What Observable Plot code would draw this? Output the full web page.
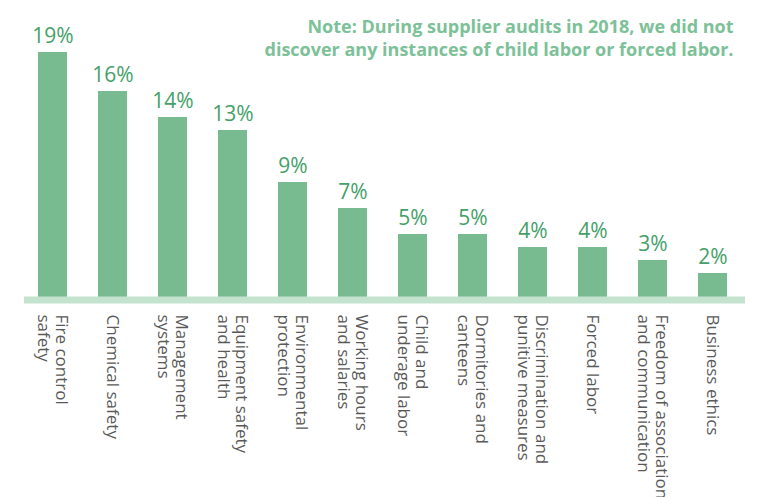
<!DOCTYPE html>
<html>
<head>
<meta charset="utf-8">
<script src="https://cdn.jsdelivr.net/npm/d3@7"></script>
<script src="https://cdn.jsdelivr.net/npm/@observablehq/plot@0.6"></script>
<style>
  html, body { margin: 0; padding: 0; background: #fff; }
  #chart { width: 767px; height: 497px; overflow: hidden; }
</style>
</head>
<body>
<div id="chart"></div>
<script>
const categories = [
  "Fire control\nsafety",
  "Chemical safety",
  "Management\nsystems",
  "Equipment safety\nand health",
  "Environmental\nprotection",
  "Working hours\nand salaries",
  "Child and\nunderage labor",
  "Dormitories and\ncanteens",
  "Discrimination and\npunitive measures",
  "Forced labor",
  "Freedom of association\nand communication",
  "Business ethics"
];
const values = [19, 16, 14, 13, 9, 7, 5, 5, 4, 4, 3, 2];
const valueLabels = ["19%", "16%", "14%", "13%", "9%", "7%", "5%", "5%", "4%", "4%", "3%", "2%"];
const note = "Note: During supplier audits in 2018, we did not\ndiscover any instances of child labor or forced labor.";

const data = categories.map((c, i) => ({category: c, value: values[i], label: valueLabels[i]}));

const chart = Plot.plot({
  width: 767,
  height: 497,
  marginLeft: 22,
  marginRight: 25,
  marginTop: 52,
  marginBottom: 198,
  style: {fontFamily: "'Open Sans', sans-serif", background: "#fff"},
  x: {domain: categories, paddingInner: 0.517, paddingOuter: 0.2585, label: null},
  y: {domain: [0, 19], axis: null},
  marks: [
    Plot.barY(data, {x: "category", y: "value", fill: "#78bb91"}),
    Plot.ruleY([0], {stroke: "#c4e3cf", strokeWidth: 7, dy: 0.5, insetLeft: 2, insetRight: -3}),
    Plot.text(data, {x: "category", y: "value", text: "label", fill: "#44a068",
      fontSize: 21, lineAnchor: "bottom", dy: -10}),
    Plot.axisX({tickSize: 0, tickPadding: 15, tickRotate: 90, fontSize: 17, fill: "#595959",
      textAnchor: "start", lineAnchor: "middle", lineHeight: 1.1, label: null}),
    Plot.text([note], {frameAnchor: "top-right", textAnchor: "end", lineAnchor: "top",
      dx: -9, dy: -36, fontSize: 18, fontWeight: "bold", fill: "#7cc197", lineHeight: 1.27})
  ]
});
document.getElementById("chart").appendChild(chart);
</script>
</body>
</html>
